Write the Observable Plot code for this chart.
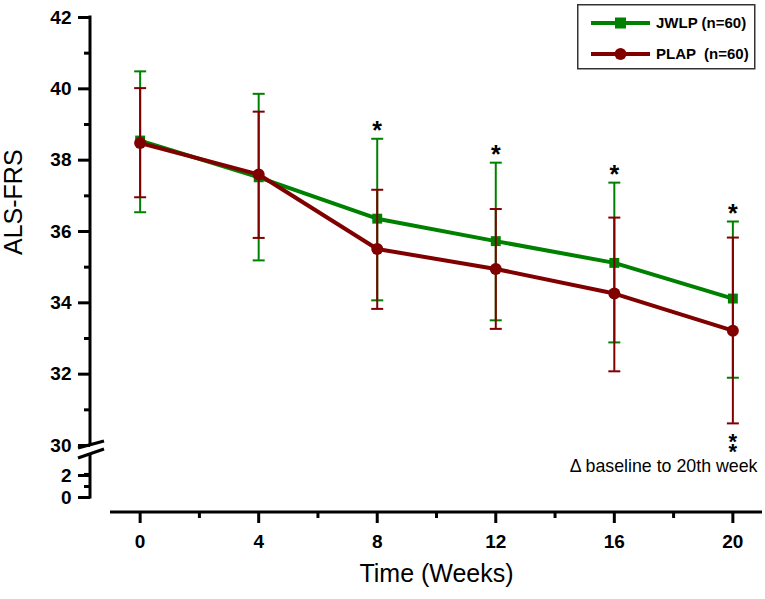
<!DOCTYPE html>
<html>
<head>
<meta charset="utf-8">
<script src="https://cdn.jsdelivr.net/npm/d3@7"></script>
<script src="https://cdn.jsdelivr.net/npm/@observablehq/plot@0.6"></script>
<style>
  body { margin: 0; background: #fff; font-family: "Liberation Sans", Arial, sans-serif; overflow: hidden; }
  #wrap { position: relative; width: 765px; height: 599px; }
</style>
</head>
<body>
<div id="wrap"></div>
<script>
// ---- data ----
const weeks = [0, 4, 8, 12, 16, 20];
const jwlpMean = [38.55, 37.52, 36.36, 35.73, 35.12, 34.12];
const jwlpLow  = [36.54, 35.19, 34.07, 33.51, 32.89, 31.90];
const jwlpHigh = [40.49, 39.86, 38.60, 37.93, 37.37, 36.28];
const plapMean = [38.48, 37.60, 35.51, 34.95, 34.26, 33.22];
const plapLow  = [36.96, 35.82, 33.83, 33.27, 32.08, 30.62];
const plapHigh = [40.02, 39.36, 37.17, 36.63, 36.39, 35.83];
const seriesNames = ["JWLP (n=60)", "PLAP  (n=60)"];
const seriesColors = ["#008000", "#800000"];
const xTicks = [0, 4, 8, 12, 16, 20];
const xMinorTicks = [2, 6, 10, 14, 18];
const yTicks = [0, 2, 30, 32, 34, 36, 38, 40, 42];
const yMinorTicks = [1, 3, 31, 33, 35, 37, 39, 41];
const starWeeks = [8, 12, 16, 20];
const deltaWeek = 20;
const deltaStars = "*\n*";
const deltaLabel = "\u0394 baseline to 20th week";
const xTitle = "Time (Weeks)";
const yTitle = "ALS-FRS";

const toRows = (m, lo, hi) => weeks.map((w, i) => ({week: w, mean: m[i], lo: lo[i], hi: hi[i]}));
const jwlp = toRows(jwlpMean, jwlpLow, jwlpHigh);
const plap = toRows(plapMean, plapLow, plapHigh);

const cap = { draw(ctx) { ctx.moveTo(-6, 0); ctx.lineTo(6, 0); } };
const FONT = "Liberation Sans, Arial, sans-serif";

function seriesMarks(rows, color, symbol, r) {
  return [
    Plot.ruleX(rows, {x: "week", y1: "lo", y2: "hi", stroke: color, strokeWidth: 2}),
    Plot.dot(rows, {x: "week", y: "lo", symbol: cap, r: 6, stroke: color, strokeWidth: 2, fill: "none"}),
    Plot.dot(rows, {x: "week", y: "hi", symbol: cap, r: 6, stroke: color, strokeWidth: 2, fill: "none"}),
    Plot.line(rows, {x: "week", y: "mean", stroke: color, strokeWidth: 4}),
    Plot.dot(rows, {x: "week", y: "mean", symbol, r, fill: color, stroke: "none"})
  ];
}

const plot = Plot.plot({
  width: 765,
  height: 599,
  marginLeft: 90,
  marginRight: 3,
  marginTop: 17,
  marginBottom: 87,
  style: {fontFamily: FONT, background: "#fff", color: "#000", overflow: "visible"},
  x: {domain: [-1, 21], range: [110, 762]},
  y: {type: "linear", domain: [0, 2, 30, 42], range: [497, 475, 445, 17]},
  marks: [
    Plot.axisX(xTicks, {tickSize: 11, tickPadding: 11, strokeWidth: 3, fontSize: 19, fontWeight: "bold", label: null, tickFormat: d => String(d)}),
    Plot.axisX(xMinorTicks, {tickSize: 6, strokeWidth: 3, tickFormat: () => "", label: null}),
    Plot.axisY(yTicks, {tickSize: 12, tickPadding: 7, strokeWidth: 3, fontSize: 19, fontWeight: "bold", label: null, tickFormat: d => String(d)}),
    Plot.axisY(yMinorTicks, {tickSize: 6, strokeWidth: 3, tickFormat: () => "", label: null}),
    ...seriesMarks(jwlp, seriesColors[0], "square", 5.6),
    ...seriesMarks(plap, seriesColors[1], "circle", 6),
    Plot.text(jwlp.filter(d => starWeeks.includes(d.week)), {x: "week", y: "hi", text: () => "*", dy: -8, fontSize: 25, fontWeight: "bold", fill: "#000"}),
    Plot.text(plap.filter(d => d.week === deltaWeek), {x: "week", y: "lo", text: () => deltaStars, lineHeight: 0.45, dy: 27, fontSize: 22, fontWeight: "bold", fill: "#000"}),
    Plot.text([deltaLabel], {frameAnchor: "bottom-right", textAnchor: "end", dx: -5, dy: -41, fontSize: 17.8, fill: "#000"}),
    Plot.text([xTitle], {frameAnchor: "bottom", dx: 10, dy: 69, fontSize: 25, fill: "#000"}),
    Plot.text([yTitle], {frameAnchor: "left", rotate: -90, dx: -77, dy: -10, fontSize: 25, fill: "#000"})
  ]
});

// axis lines and the axis break, positioned from the scales
const ys = plot.scale("y");
const xs = plot.scale("x");
const axX = 90;
const y30 = ys.apply(30);
const g = d3.select(plot).append("g").attr("stroke", "#000").attr("stroke-width", 3).attr("fill", "none");
g.append("line").attr("x1", axX).attr("x2", axX).attr("y1", ys.apply(42) - 1.5).attr("y2", y30);
g.append("line").attr("x1", axX).attr("x2", axX).attr("y1", ys.apply(0) + 1.5).attr("y2", y30 + 9);
g.append("line").attr("x1", axX - 12).attr("y1", y30 + 3).attr("x2", axX + 14).attr("y2", y30 - 4);
g.append("line").attr("x1", axX - 12).attr("y1", y30 + 13).attr("x2", axX + 14).attr("y2", y30 + 4);
const xAxisY = 599 - 87;
g.append("line").attr("x1", xs.range[0]).attr("x2", xs.range[1]).attr("y1", xAxisY).attr("y2", xAxisY);

// legend (inside the SVG)
const lg = d3.select(plot).append("g").attr("transform", "translate(577,4)").attr("text-anchor", "start");
lg.append("rect").attr("x", 0.75).attr("y", 0.75).attr("width", 177).attr("height", 64)
  .attr("fill", "#fff").attr("stroke", "#333").attr("stroke-width", 1.5);
const rowY = [19, 50];
seriesNames.forEach((name, i) => {
  const row = lg.append("g").attr("transform", `translate(0,${rowY[i]})`);
  row.append("line").attr("x1", 14).attr("x2", 73).attr("y1", 0).attr("y2", 0)
    .attr("stroke", seriesColors[i]).attr("stroke-width", 4);
  if (i === 0) row.append("rect").attr("x", 38).attr("y", -5.5).attr("width", 11).attr("height", 11).attr("fill", seriesColors[i]);
  else row.append("circle").attr("cx", 43.5).attr("cy", 0).attr("r", 6).attr("fill", seriesColors[i]);
  row.append("text").attr("x", 79).attr("y", 0).attr("dy", "0.36em").attr("text-anchor", "start")
    .attr("font-family", FONT).attr("font-weight", "bold").attr("font-size", 15)
    .attr("fill", "#000").style("white-space", "pre").text(name);
});

document.getElementById("wrap").appendChild(plot);
</script>
</body>
</html>
